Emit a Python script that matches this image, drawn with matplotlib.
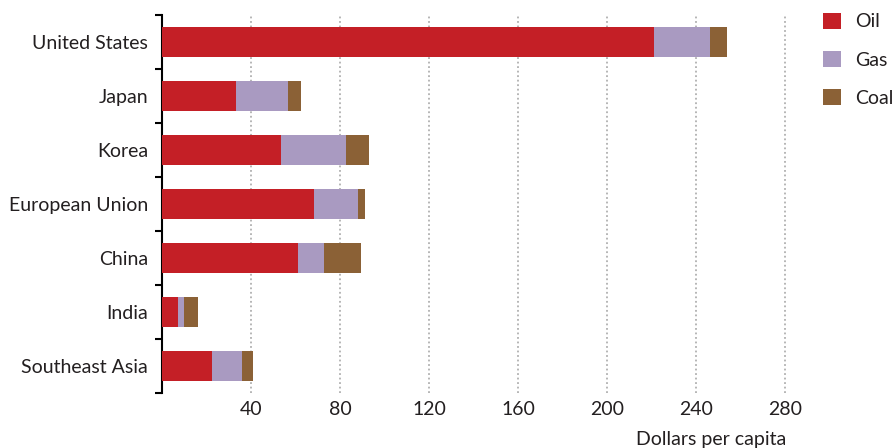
import matplotlib
matplotlib.use("Agg")
import matplotlib.pyplot as plt
import numpy as np

plt.rcParams["font.family"] = ["Lato", "DejaVu Sans"]

regions = ["United States", "Japan", "Korea", "European Union", "China",
           "India", "Southeast Asia"]
oil = [221.0, 33.2, 53.5, 68.3, 61.1, 7.2, 22.5]
gas = [25.2, 23.4, 29.2, 19.8, 11.7, 2.7, 13.4]
coal = [7.6, 5.8, 10.3, 3.1, 16.6, 6.3, 5.0]
xticks = [40, 80, 120, 160, 200, 240, 280]

c_oil = "#C41F26"
c_gas = "#A99AC1"
c_coal = "#8B6136"
txt = "#231F20"
fs = 14

fig = plt.figure(figsize=(8.93, 4.48), dpi=100)
ax = fig.add_axes([0.1814, 0.1228, 0.7228, 0.8438])

y = np.arange(len(regions))
oil = np.array(oil)
gas = np.array(gas)
coal = np.array(coal)
h = 0.56
ax.barh(y, oil, height=h, color=c_oil, label="Oil", zorder=3)
ax.barh(y, gas, height=h, left=oil, color=c_gas, label="Gas", zorder=3)
ax.barh(y, coal, height=h, left=oil + gas, color=c_coal, label="Coal", zorder=3)

ax.set_xlim(0, 290)
ax.set_ylim(len(regions) - 0.5, -0.5)

ax.set_yticks(y)
ax.set_yticklabels(regions)
ax.set_yticks(np.arange(-0.5, len(regions)), minor=True)
ax.tick_params(axis="y", which="major", length=0, pad=10, labelsize=fs,
               labelcolor=txt)
ax.tick_params(axis="y", which="minor", length=5, width=1.5, color="black")

ax.set_xticks(xticks)
ax.tick_params(axis="x", length=0, pad=6, labelsize=fs, labelcolor=txt)
ax.grid(axis="x", linestyle=(0, (1.0, 1.5)), color="#b0b0b0", linewidth=1.3,
        zorder=0)

for s in ["top", "right", "bottom"]:
    ax.spines[s].set_visible(False)
ax.spines["left"].set_linewidth(1.5)

fig.text(0.881, 0.018, "Dollars per capita", ha="right", va="center",
         fontsize=fs, color=txt)

leg = fig.legend(loc="upper left", bbox_to_anchor=(0.922, 0.972),
                 frameon=False, fontsize=fs, handlelength=0.9,
                 handleheight=0.9, handletextpad=0.75, labelspacing=1.05,
                 borderaxespad=0, borderpad=0)
for t in leg.get_texts():
    t.set_color(txt)

fig.savefig("out.png", dpi=100)
